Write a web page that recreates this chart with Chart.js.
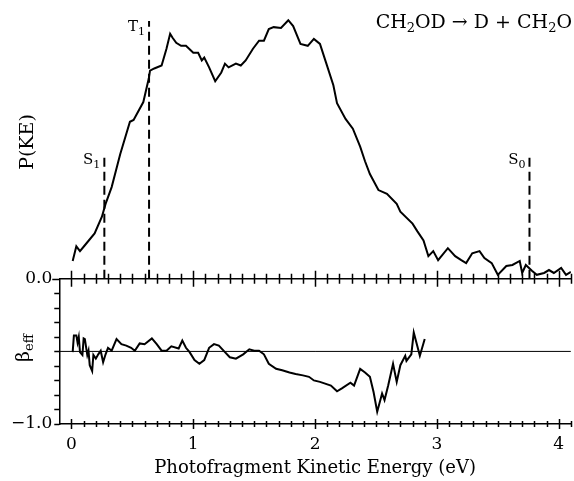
<!DOCTYPE html>
<html>
<head>
  <script src="https://cdn.jsdelivr.net/npm/chart.js@4"></script>
  <style>
    body { margin: 0; background: #fff; }
  </style>
</head>
<body>
  <canvas id="chart" width="574" height="481"></canvas>
  <script>
    // P(KE) trace (top panel), arbitrary units
    const energyP = [0.01,0.04,0.07,0.11,0.19,0.25,0.28,0.33,0.40,0.48,0.51,0.59,0.635,0.645,0.68,0.74,0.78,0.81,0.83,0.86,0.90,0.94,1.00,1.04,1.07,1.09,1.13,1.18,1.23,1.26,1.29,1.35,1.39,1.43,1.49,1.54,1.58,1.62,1.66,1.72,1.78,1.82,1.88,1.94,1.99,2.04,2.09,2.15,2.18,2.25,2.31,2.37,2.41,2.45,2.52,2.59,2.67,2.70,2.80,2.84,2.89,2.93,2.97,3.01,3.09,3.15,3.20,3.24,3.29,3.35,3.39,3.45,3.50,3.57,3.62,3.68,3.70,3.73,3.78,3.82,3.88,3.92,3.96,4.02,4.06,4.10];
    const probP = [0.067,0.122,0.104,0.126,0.170,0.233,0.281,0.344,0.467,0.589,0.596,0.663,0.752,0.781,0.789,0.800,0.863,0.919,0.904,0.885,0.874,0.874,0.848,0.848,0.819,0.830,0.793,0.741,0.774,0.807,0.793,0.807,0.800,0.819,0.863,0.893,0.893,0.937,0.944,0.941,0.970,0.948,0.881,0.874,0.900,0.881,0.811,0.726,0.659,0.600,0.563,0.496,0.441,0.393,0.333,0.319,0.281,0.252,0.207,0.178,0.144,0.085,0.104,0.070,0.115,0.085,0.070,0.059,0.096,0.104,0.078,0.059,0.015,0.048,0.052,0.067,0.022,0.052,0.030,0.015,0.022,0.033,0.022,0.041,0.015,0.026];

    // beta_eff trace (bottom panel)
    const energyB = [0.01,0.02,0.04,0.05,0.06,0.07,0.09,0.10,0.11,0.13,0.14,0.15,0.17,0.18,0.20,0.22,0.24,0.26,0.28,0.30,0.33,0.37,0.41,0.45,0.49,0.52,0.56,0.60,0.66,0.70,0.74,0.78,0.82,0.88,0.91,0.94,0.97,1.01,1.05,1.09,1.13,1.17,1.21,1.26,1.30,1.35,1.41,1.46,1.50,1.54,1.58,1.62,1.68,1.73,1.79,1.84,1.90,1.95,1.99,2.04,2.13,2.18,2.22,2.29,2.32,2.37,2.41,2.45,2.48,2.51,2.55,2.57,2.60,2.64,2.67,2.70,2.74,2.75,2.79,2.81,2.86,2.90];
    const betaB = [-0.01,0.22,0.22,0.12,0.20,-0.01,-0.05,0.18,0.17,-0.05,0.01,-0.19,-0.27,-0.05,-0.10,-0.04,0.01,-0.15,-0.04,0.05,0.01,0.17,0.10,0.08,0.05,0.01,0.11,0.10,0.18,0.10,0.01,0.01,0.07,0.04,0.15,0.05,-0.01,-0.12,-0.17,-0.12,0.05,0.10,0.08,-0.01,-0.08,-0.10,-0.04,0.03,0.01,0.01,-0.04,-0.17,-0.24,-0.26,-0.29,-0.31,-0.33,-0.35,-0.40,-0.42,-0.47,-0.55,-0.51,-0.43,-0.47,-0.24,-0.29,-0.35,-0.56,-0.83,-0.58,-0.67,-0.47,-0.17,-0.42,-0.19,-0.06,-0.13,-0.04,0.26,-0.06,0.17];

    // energy thresholds marked with dashed lines
    const levelNames = ['S', 'T', 'S'];
    const levelSubs = ['1', '1', '0'];
    const levelEnergy = [0.27, 0.637, 3.76];
    const levelTop = [0.467, 0.967, 0.467];

    const xTicks = [0, 1, 2, 3, 4];
    const betaTicks = [-1, -0.8, -0.6, -0.4, -0.2, 0, 0.2, 0.4, 0.6, 0.8, 1];
    const xMin = -0.1, xMax = 4.1;

    const FONT = "'DejaVu Serif', 'Liberation Serif', serif";

    function drawParts(ctx, parts, x, y, size, subSize, align) {
      let total = 0;
      const widths = parts.map(p => {
        ctx.font = (p[1] ? subSize : size) + 'px ' + FONT;
        const w = ctx.measureText(p[0]).width;
        total += w;
        return w;
      });
      let cx = align === 'right' ? x - total : align === 'center' ? x - total / 2 : x;
      ctx.textAlign = 'left';
      ctx.textBaseline = 'alphabetic';
      parts.forEach((p, i) => {
        ctx.font = (p[1] ? subSize : size) + 'px ' + FONT;
        ctx.fillText(p[0], cx, p[1] ? y + 4 : y);
        cx += widths[i];
      });
    }

    const decorations = {
      id: 'decorations',
      afterDraw(chart) {
        const ctx = chart.ctx;
        const x = chart.scales.x, y = chart.scales.y, yb = chart.scales.yb;
        const mid = y.getPixelForValue(0);
        const bot = chart.chartArea.bottom;
        const left = chart.chartArea.left;
        ctx.save();
        ctx.strokeStyle = '#000';
        ctx.lineWidth = 1.5;
        ctx.beginPath();
        // minor + major ticks on both horizontal axes
        for (let i = 0; i <= 41; i++) {
          const px = Math.round(x.getPixelForValue(i / 10)) + 0.5;
          const major = i % 10 === 0;
          const a = major ? 8 : 5, b = major ? 5 : 3;
          ctx.moveTo(px, mid - a); ctx.lineTo(px, mid + a);
          ctx.moveTo(px, bot - b); ctx.lineTo(px, bot + b);
        }
        // left ticks of the beta panel
        betaTicks.forEach(v => {
          const py = Math.round(yb.getPixelForValue(v)) + 0.5;
          ctx.moveTo(left - 5, py); ctx.lineTo(left, py);
        });
        ctx.moveTo(left - 7, Math.round(mid) + 0.5); ctx.lineTo(left, Math.round(mid) + 0.5);
        ctx.stroke();

        ctx.fillStyle = '#000';
        drawParts(ctx, [['CH', 0], ['2', 1], ['OD \u2192 D + CH', 0], ['2', 1], ['O', 0]], 572, 28, 19, 13, 'right');

        levelNames.forEach((n, i) => {
          const px = x.getPixelForValue(levelEnergy[i]);
          const py = y.getPixelForValue(levelTop[i]);
          drawParts(ctx, [[n, 0], [levelSubs[i], 1]], px - 4, py + 10, 15, 11, 'right');
        });

        ctx.save();
        ctx.translate(33, 142);
        ctx.rotate(-Math.PI / 2);
        drawParts(ctx, [['P(KE)', 0]], 0, 0, 19, 13, 'center');
        ctx.restore();

        ctx.save();
        ctx.translate(29, 348);
        ctx.rotate(-Math.PI / 2);
        drawParts(ctx, [['\u03b2', 0], ['eff', 1]], 0, 0, 19, 13, 'center');
        ctx.restore();
        ctx.restore();
      }
    };

    const line = { borderColor: '#000', borderWidth: 2, pointRadius: 0, fill: false, tension: 0 };

    const datasets = [
      Object.assign({ data: energyP.map((e, i) => ({ x: e, y: probP[i] })), yAxisID: 'y' }, line),
      Object.assign({ data: energyB.map((e, i) => ({ x: e, y: betaB[i] })), yAxisID: 'yb' }, line),
      { data: [{ x: xMin, y: 0 }, { x: xMax, y: 0 }], yAxisID: 'yb', borderColor: '#000', borderWidth: 1, pointRadius: 0 }
    ];
    levelEnergy.forEach((e, i) => {
      datasets.push({ data: [{ x: e, y: 0 }, { x: e, y: levelTop[i] }], yAxisID: 'y',
        borderColor: '#000', borderWidth: 2, borderDash: [9, 5], pointRadius: 0 });
    });

    new Chart(document.getElementById('chart'), {
      type: 'line',
      data: { datasets: datasets },
      options: {
        responsive: false,
        animation: false,
        devicePixelRatio: 1,
        layout: { padding: { left: 9, right: 2, top: 6, bottom: 2 } },
        plugins: { legend: { display: false }, tooltip: { enabled: false } },
        scales: {
          x: {
            type: 'linear', position: 'bottom', min: xMin, max: xMax,
            afterBuildTicks: s => { s.ticks = xTicks.map(v => ({ value: v })); },
            grid: { display: false, drawTicks: false },
            border: { display: true, color: '#000', width: 1.5 },
            ticks: { color: '#000', padding: 10, font: { family: FONT, size: 17 }, callback: v => String(v) },
            title: { display: true, text: 'Photofragment Kinetic Energy (eV)', color: '#000',
              font: { family: FONT, size: 18 }, padding: { top: -7, bottom: 0 } }
          },
          x2: {
            type: 'linear', position: { y: 0 }, min: xMin, max: xMax,
            afterBuildTicks: s => { s.ticks = xTicks.map(v => ({ value: v })); },
            grid: { display: false, drawTicks: false },
            border: { display: true, color: '#000', width: 1.5 },
            ticks: { display: false }
          },
          yb: {
            type: 'linear', position: 'left', min: -1, max: 1, stack: 'v', stackWeight: 147,
            afterBuildTicks: s => { s.ticks = betaTicks.map(v => ({ value: v })); },
            grid: { drawOnChartArea: false, tickLength: 5, color: 'rgba(0,0,0,0)' },
            border: { display: true, color: '#000', width: 1.5 },
            ticks: { color: '#000', padding: 2, autoSkip: false, font: { family: FONT, size: 17 },
              callback: v => v === -1 ? '\u22121.0' : '' }
          },
          y: {
            type: 'linear', position: 'left', min: 0, max: 1, stack: 'v', stackWeight: 270,
            afterBuildTicks: s => { s.ticks = [{ value: 0 }]; },
            grid: { drawOnChartArea: false, tickLength: 5, color: 'rgba(0,0,0,0)' },
            border: { display: false },
            ticks: { color: '#000', padding: 2, font: { family: FONT, size: 17 }, callback: () => '0.0' }
          }
        }
      },
      plugins: [decorations]
    });
  </script>
</body>
</html>
